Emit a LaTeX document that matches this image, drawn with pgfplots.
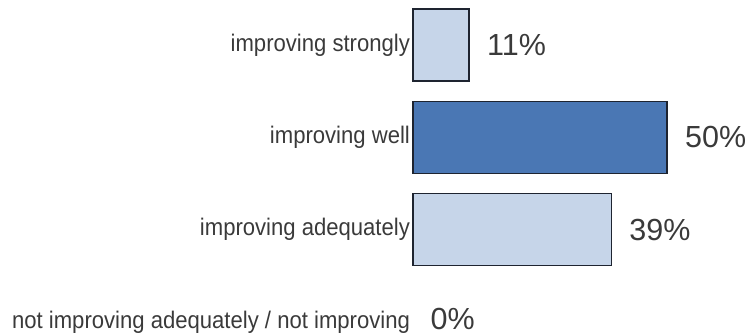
\documentclass[border=0pt]{standalone}
\usepackage{fontspec}
\setmainfont{Liberation Sans}
\newfontfamily\catfont[FakeStretch=0.92]{Liberation Sans}
\usepackage{pgfplots}
\pgfplotsset{compat=1.18}
\definecolor{lightbar}{HTML}{C6D5E9}
\definecolor{darkbar}{HTML}{4A77B4}
\definecolor{edge}{HTML}{1E2430}
\definecolor{txt}{HTML}{3A3A3A}
\begin{document}
\begin{tikzpicture}
\begin{axis}[
  scale only axis,
  width=337.8pt, height=335pt,
  xmin=0, xmax=66.5,
  ymin=-0.4875, ymax=3.142,
  y dir=reverse,
  axis line style={draw=none},
  major tick length=0pt,
  xtick=\empty,
  ytick={0,1,2,3},
  yticklabels={improving strongly, improving well, improving adequately, not improving adequately / not improving},
  yticklabel style={font=\catfont\fontsize{24}{28}\selectfont, text=txt, anchor=east, inner xsep=3pt},
  xbar, bar shift=0pt, bar width=72pt,
  clip=false,
  /pgf/number format/assume math mode=true,
  nodes near coords={\pgfmathprintnumber{\pgfplotspointmeta}\%},
  nodes near coords style={font=\fontsize{30.5}{35}\selectfont, text=txt, anchor=west, xshift=14pt, inner ysep=0pt},
  point meta=x,
]
\addplot[draw=edge, line width=1.5pt, fill=lightbar] coordinates {(11,0) (39,2)};
\addplot[draw=edge, line width=1.5pt, fill=darkbar] coordinates {(50,1)};
\addplot[draw=none, fill=none, nodes near coords style={yshift=3pt}] coordinates {(0,3)};
\end{axis}
\pgfresetboundingbox
\path[use as bounding box] ([xshift=-413pt]current axis.south west) rectangle (current axis.north east);
\end{tikzpicture}
\end{document}
